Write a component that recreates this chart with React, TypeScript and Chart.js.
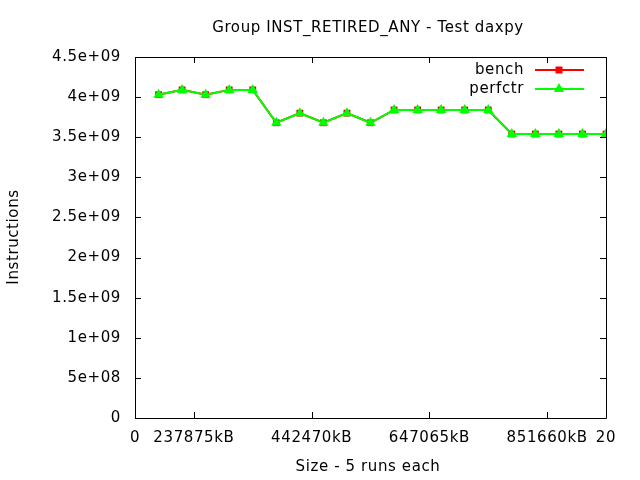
import React, { useEffect, useRef } from "react";
import { Chart, registerables } from "chart.js";

Chart.register(...registerables);

const titleText = "Group INST_RETIRED_ANY - Test daxpy";
const xAxisTitle = "Size - 5 runs each";
const yAxisTitle = "Instructions";

const xPositions = [1, 2, 3, 4, 5, 6, 7, 8, 9, 10, 11, 12, 13, 14, 15, 16, 17, 18, 19, 20];
const benchValues = [
  4.03e9, 4.09e9, 4.03e9, 4.09e9, 4.09e9,
  3.68e9, 3.8e9, 3.68e9, 3.8e9, 3.68e9,
  3.84e9, 3.84e9, 3.84e9, 3.84e9, 3.84e9,
  3.54e9, 3.54e9, 3.54e9, 3.54e9, 3.54e9,
];
const perfctrValues = [
  4.03e9, 4.09e9, 4.03e9, 4.09e9, 4.09e9,
  3.68e9, 3.8e9, 3.68e9, 3.8e9, 3.68e9,
  3.84e9, 3.84e9, 3.84e9, 3.84e9, 3.84e9,
  3.54e9, 3.54e9, 3.54e9, 3.54e9, 3.54e9,
];
const xTickValues = [0, 2.5, 7.5, 12.5, 17.5, 20];
const xTickLabels = ["0", "237875kB", "442470kB", "647065kB", "851660kB", "20"];
const yTickValues = [0, 5e8, 1e9, 1.5e9, 2e9, 2.5e9, 3e9, 3.5e9, 4e9, 4.5e9];

const seriesNames = ["bench", "perfctr"];
const FONT = "DejaVu Sans";
const FS = 15;
const LS = "0.6px";

function fmtExp(v: number): string {
  if (v === 0) return "0";
  const e = Math.floor(Math.log10(Math.abs(v)) + 1e-9);
  const m = Number((v / Math.pow(10, e)).toFixed(3));
  return `${m}e+${String(e).padStart(2, "0")}`;
}

const framePlugin = {
  id: "gnuframe",
  beforeDraw(chart: any) {
    (chart.ctx as any).letterSpacing = LS;
  },
  afterDraw(chart: any) {
    const ctx = chart.ctx as CanvasRenderingContext2D;
    const a = chart.chartArea;
    const xs = chart.scales.x;
    const ys = chart.scales.y;
    ctx.save();
    ctx.strokeStyle = "#000";
    ctx.lineWidth = 1;
    ctx.beginPath();
    ctx.rect(Math.round(a.left) + 0.5, Math.round(a.top) + 0.5, Math.round(a.right - a.left), Math.round(a.bottom - a.top));
    ctx.stroke();
    const tl = 6;
    ctx.beginPath();
    yTickValues.forEach((v) => {
      const y = Math.round(ys.getPixelForValue(v)) + 0.5;
      ctx.moveTo(a.left, y);
      ctx.lineTo(a.left + tl, y);
      ctx.moveTo(a.right, y);
      ctx.lineTo(a.right - tl, y);
    });
    xTickValues.forEach((v) => {
      const x = Math.round(xs.getPixelForValue(v)) + 0.5;
      ctx.moveTo(x, a.bottom);
      ctx.lineTo(x, a.bottom - tl);
      ctx.moveTo(x, a.top);
      ctx.lineTo(x, a.top + tl);
    });
    ctx.stroke();

    // texts
    (ctx as any).letterSpacing = LS;
    ctx.fillStyle = "#000";
    ctx.font = `${FS}px "${FONT}"`;
    ctx.textAlign = "center";
    ctx.textBaseline = "alphabetic";
    ctx.fillText(titleText, 368, 32);
    ctx.fillText(xAxisTitle, 368, 471);
    ctx.save();
    ctx.translate(14, 237);
    ctx.rotate(-Math.PI / 2);
    ctx.textBaseline = "middle";
    ctx.fillText(yAxisTitle, 0, 0);
    ctx.restore();

    // legend
    const rows = [
      { name: seriesNames[0], color: "rgb(255,0,0)", style: "rect", y: 70 },
      { name: seriesNames[1], color: "rgb(0,255,0)", style: "triangle", y: 89 },
    ];
    rows.forEach((r) => {
      ctx.textAlign = "right";
      ctx.textBaseline = "middle";
      ctx.fillStyle = "#000";
      ctx.fillText(r.name, 524, r.y);
      ctx.strokeStyle = r.color;
      ctx.lineWidth = 2;
      ctx.beginPath();
      ctx.moveTo(535, r.y);
      ctx.lineTo(584, r.y);
      ctx.stroke();
      ctx.fillStyle = r.color;
      ctx.beginPath();
      if (r.style === "rect") {
        ctx.rect(559 - 3.5, r.y - 3.5, 7, 7);
      } else {
        ctx.moveTo(559, r.y - 6);
        ctx.lineTo(559 + 5.2, r.y + 3);
        ctx.lineTo(559 - 5.2, r.y + 3);
        ctx.closePath();
      }
      ctx.fill();
    });
    ctx.restore();
  },
};

export default function App() {
  const ref = useRef<HTMLCanvasElement | null>(null);
  useEffect(() => {
    if (!ref.current) return;
    const chart = new Chart(ref.current, {
      type: "line",
      data: {
        datasets: [
          {
            label: seriesNames[0],
            data: xPositions.map((x, i) => ({ x, y: benchValues[i] })),
            borderColor: "rgb(255,0,0)",
            backgroundColor: "rgb(220,0,0)",
            borderWidth: 2,
            pointStyle: "rect",
            pointRadius: 4.8,
            pointBorderWidth: 0,
            order: 1,
          },
          {
            label: seriesNames[1],
            data: xPositions.map((x, i) => ({ x, y: perfctrValues[i] })),
            borderColor: "rgb(0,255,0)",
            backgroundColor: "rgb(0,255,0)",
            borderWidth: 2,
            pointStyle: "triangle",
            pointRadius: 6,
            pointBorderWidth: 0,
            order: 0,
          },
        ],
      },
      options: {
        animation: false,
        responsive: false,
        devicePixelRatio: 1,
        layout: { padding: { left: 0, right: 34, top: 57, bottom: 0 } },
        plugins: {
          legend: { display: false },
          title: { display: false },
          tooltip: { enabled: false },
        },
        scales: {
          x: {
            type: "linear",
            min: 0,
            max: 20,
            grid: { display: false, drawTicks: false },
            border: { display: false },
            afterBuildTicks: (s: any) => {
              s.ticks = xTickValues.map((v) => ({ value: v }));
            },
            afterFit: (s: any) => {
              s.height = 62;
            },
            ticks: {
              autoSkip: false,
              maxRotation: 0,
              padding: 11,
              color: "#000",
              font: { family: FONT, size: FS },
              callback: (v: any) => {
                const i = xTickValues.indexOf(Number(v));
                return i >= 0 ? xTickLabels[i] : "";
              },
            },
          },
          y: {
            min: 0,
            max: 4.5e9,
            grid: { display: false, drawTicks: false },
            border: { display: false },
            afterBuildTicks: (s: any) => {
              s.ticks = yTickValues.map((v) => ({ value: v }));
            },
            afterFit: (s: any) => {
              s.width = 135;
            },
            ticks: {
              padding: 14,
              color: "#000",
              font: { family: FONT, size: FS },
              callback: (v: any) => fmtExp(Number(v)),
            },
          },
        },
      },
      plugins: [framePlugin],
    });
    return () => chart.destroy();
  }, []);
  return (
    <div style={{ position: "fixed", left: 0, top: 0, width: 640, height: 480, background: "#fff" }}>
      <canvas ref={ref} width={640} height={480} style={{ width: 640, height: 480 }} />
    </div>
  );
}
